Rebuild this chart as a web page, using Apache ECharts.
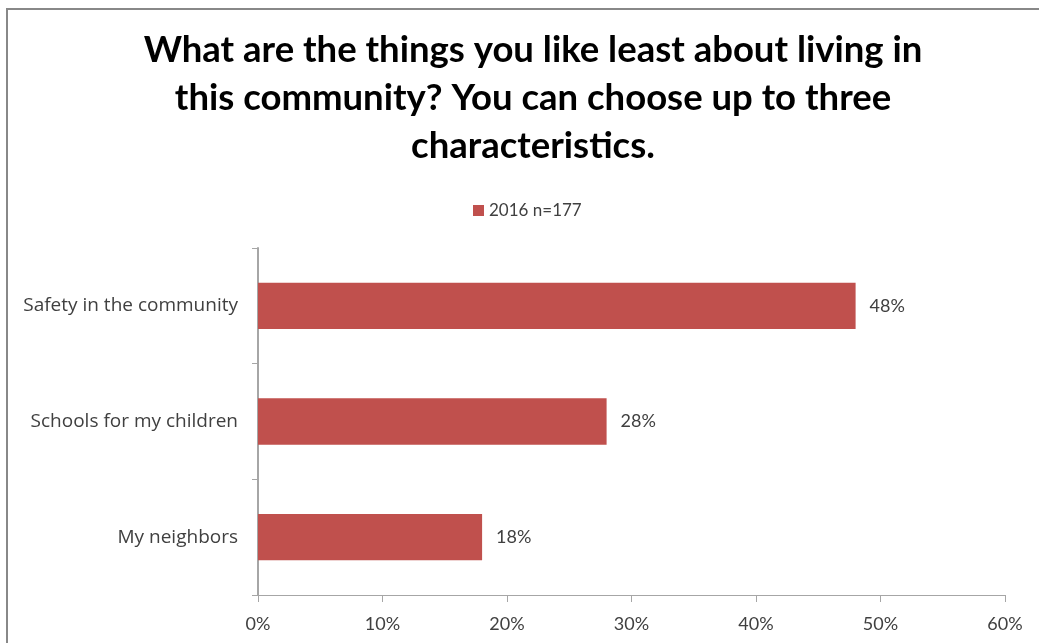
<!DOCTYPE html>
<html>
<head>
<meta charset="utf-8">
<script src="https://cdn.jsdelivr.net/npm/echarts@6/dist/echarts.min.js"></script>
<style>
  html, body { margin: 0; padding: 0; background: #fff; }
  #chart { width: 1039px; height: 643px; }
</style>
</head>
<body>
<div id="chart"></div>
<script>
// Survey responses: least liked characteristics of the community
const categories = ['Safety in the community', 'Schools for my children', 'My neighbors'];
const seriesName = '2016 n=177';
const values = [48, 28, 18];
const axisTicks = [0, 10, 20, 30, 40, 50, 60];

const chart = echarts.init(document.getElementById('chart'));

const textFont = 'Lato, "Open Sans", sans-serif';
const catFont = '"Open Sans", Lato, sans-serif';

chart.setOption({
  backgroundColor: '#ffffff',
  animation: false,
  title: {
    text: 'What are the things you like least about living in\nthis community? You can choose up to three\ncharacteristics.',
    left: 528,
    textAlign: 'center',
    top: 21,
    textStyle: {
      fontFamily: textFont,
      fontWeight: 'bold',
      fontSize: 36.5,
      lineHeight: 48,
      color: '#000000'
    }
  },
  legend: {
    data: [seriesName],
    left: 468,
    top: 197,
    itemWidth: 11,
    itemHeight: 11,
    itemGap: 6,
    icon: 'rect',
    textStyle: {
      fontFamily: textFont,
      fontSize: 17,
      color: '#404040'
    }
  },
  graphic: [{
    type: 'rect',
    shape: { x: 7, y: 9, width: 1100, height: 700 },
    style: { fill: 'none', stroke: '#888888', lineWidth: 2 },
    silent: true
  }],
  grid: {
    left: 258,
    right: 34,
    top: 248,
    bottom: 48,
    containLabel: false
  },
  xAxis: {
    type: 'value',
    min: axisTicks[0],
    max: axisTicks[axisTicks.length - 1],
    interval: axisTicks[1] - axisTicks[0],
    axisLine: { show: true, lineStyle: { color: '#a6a6a6', width: 1 } },
    axisTick: { show: true, length: 7, lineStyle: { color: '#a6a6a6' } },
    splitLine: { show: false },
    axisLabel: {
      formatter: '{value}%',
      margin: 20,
      fontFamily: textFont,
      fontSize: 18,
      color: '#404040'
    }
  },
  yAxis: {
    type: 'category',
    data: categories,
    inverse: true,
    axisLine: { show: true, lineStyle: { color: '#a6a6a6', width: 2 } },
    axisTick: { show: true, length: 6, lineStyle: { color: '#a6a6a6' } },
    axisLabel: {
      margin: 20,
      fontFamily: catFont,
      fontSize: 19,
      color: '#404040'
    }
  },
  series: [{
    name: seriesName,
    type: 'bar',
    data: values,
    barCategoryGap: '60%',
    itemStyle: { color: '#C0504D' },
    label: {
      show: true,
      position: 'right',
      distance: 14,
      formatter: '{c}%',
      fontFamily: textFont,
      fontSize: 18,
      color: '#404040'
    }
  }]
});
</script>
</body>
</html>
